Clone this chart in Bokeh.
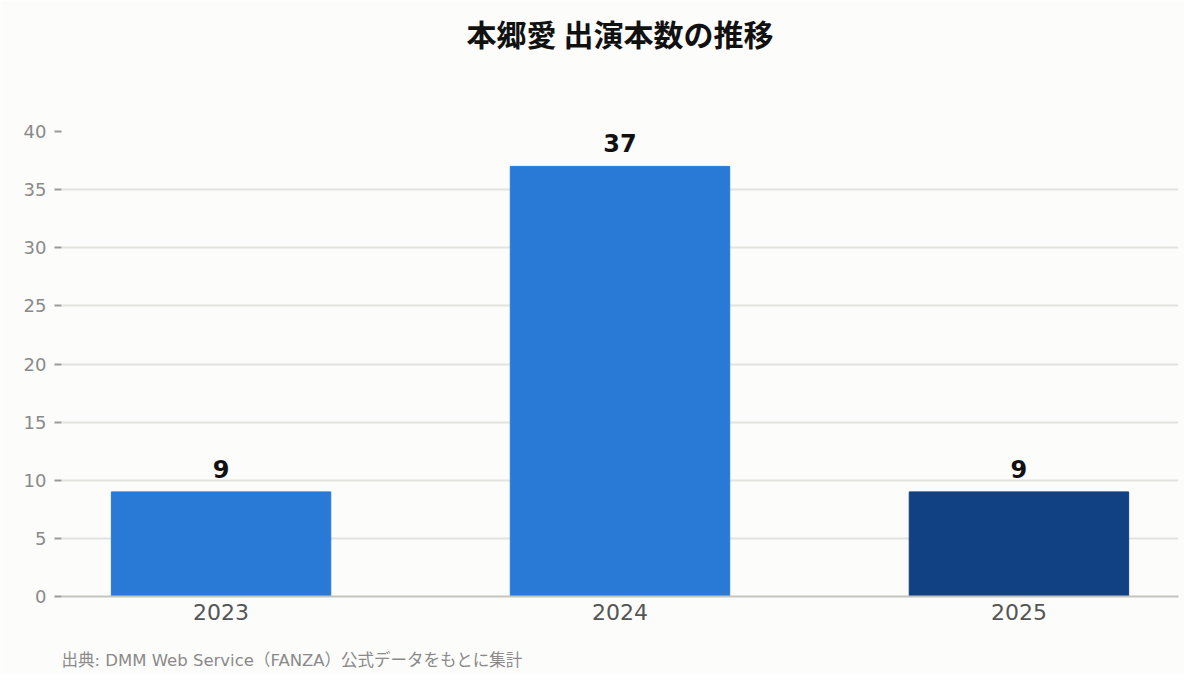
from bokeh.embed import file_html
from bokeh.resources import INLINE
from bokeh.models import ColumnDataSource, FixedTicker, Range1d, Title
from bokeh.plotting import figure

# data
YEARS = ["2023", "2024", "2025"]
COUNTS = [9, 37, 9]
COLORS = ["#2979d6", "#2979d6", "#114182"]
Y_TICKS = [0, 5, 10, 15, 20, 25, 30, 35, 40]

TITLE = "本郷愛 出演本数の推移"
SOURCE_NOTE = "出典: DMM Web Service（FANZA）公式データをもとに集計"

FONT = "DejaVu Sans, Noto Sans CJK JP"
CJK_FONT = "Noto Sans CJK JP"
BG = "#fcfcfb"

xs = list(range(len(YEARS)))
source = ColumnDataSource(dict(
    x=xs,
    count=COUNTS,
    color=COLORS,
    label=[str(c) for c in COUNTS],
))

p = figure(
    width=1184,
    height=674,
    x_range=Range1d(-0.4, len(YEARS) - 1 + 0.4),
    y_range=Range1d(0, 40),
    output_backend="svg",
    toolbar_location=None,
    background_fill_color=BG,
    border_fill_color=BG,
    outline_line_color=None,
    min_border_left=61,
    min_border_right=6,
    min_border_top=131,
    min_border_bottom=78,
)

# title (outermost panel above)
p.title.text = TITLE
p.title.align = "center"
p.title.text_font = CJK_FONT
p.title.text_font_size = "30px"
p.title.text_font_style = "bold"
p.title.text_color = "#111111"

# blank spacer between title and plot area
p.add_layout(Title(text=" ", text_font_size="10px", standoff=59), "above")

# blank spacer under the x axis, then the source note
p.add_layout(Title(text=" ", text_font_size="10px", standoff=11), "below")
p.add_layout(Title(
    text=SOURCE_NOTE,
    align="left",
    text_font=FONT,
    text_font_size="16.5px",
    text_font_style="normal",
    text_color="#8a8a8a",
    offset=0,
    standoff=4,
), "below")

# bars
p.vbar(x="x", top="count", width=0.55, color="color", source=source)

# value labels
p.text(
    x="x", y="count", text="label", source=source,
    text_align="center", text_baseline="bottom", y_offset=-14,
    text_font_size="24px", text_font_style="bold", text_color="#111111",
    text_font={"value": "DejaVu Sans"},
)

# axes
p.xaxis.ticker = FixedTicker(ticks=xs)
p.xaxis.major_label_overrides = {i: y for i, y in enumerate(YEARS)}
p.xaxis.major_label_text_font = FONT
p.xaxis.major_label_text_font_size = "22px"
p.xaxis.major_label_text_color = "#555555"
p.xaxis.major_label_standoff = 7
p.xaxis.major_tick_line_color = None
p.xaxis.major_tick_in = 0
p.xaxis.major_tick_out = 0
p.xaxis.minor_tick_line_color = None
p.xaxis.axis_line_color = "#c4c4bf"
p.xaxis.axis_line_width = 2

p.yaxis.ticker = FixedTicker(ticks=Y_TICKS)
p.yaxis.major_label_text_font = FONT
p.yaxis.major_label_text_font_size = "18px"
p.yaxis.major_label_text_color = "#8a8a8a"
p.yaxis.major_label_standoff = 8
p.yaxis.major_tick_line_color = "#999999"
p.yaxis.major_tick_line_width = 2
p.yaxis.major_tick_in = 0
p.yaxis.major_tick_out = 7
p.yaxis.minor_tick_line_color = None
p.yaxis.axis_line_color = None

p.xgrid.grid_line_color = None
p.ygrid.grid_line_color = "#e2e2de"
p.ygrid.grid_line_width = 2

open("out.html", "w").write(file_html(p, INLINE))
